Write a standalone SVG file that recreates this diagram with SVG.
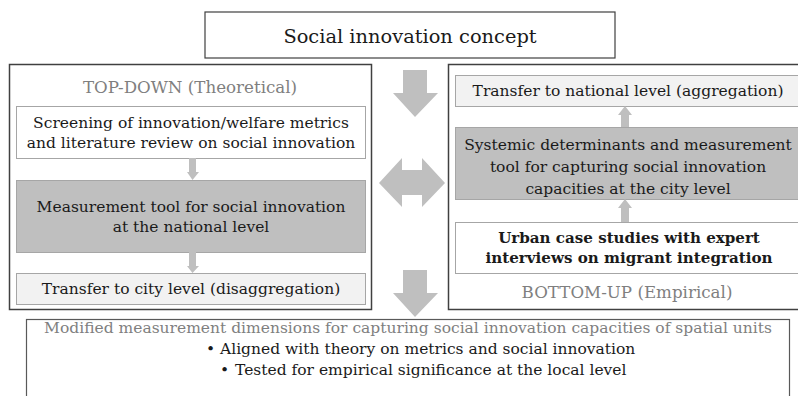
<svg xmlns="http://www.w3.org/2000/svg" width="798" height="396" viewBox="0 0 798 396">
<style>
text{font-family:"DejaVu Serif","Liberation Serif",serif;font-size:15.5px;fill:#1a1a1a;text-anchor:middle}
.gray{fill:#7f7f7f}
.lab{font-size:16.7px}
.title{font-size:19.4px}
.b{font-weight:bold;font-size:15.1px}
.cont{fill:#fff;stroke:#404040;stroke-width:1.5}
.wbox{fill:#fff;stroke:#a6a6a6;stroke-width:1}
.gbox{fill:#bfbfbf;stroke:#a6a6a6;stroke-width:1}
.lbox{fill:#f2f2f2;stroke:#a6a6a6;stroke-width:1}
.arr{fill:#bfbfbf}
.s{text-anchor:start}
</style>
<rect width="798" height="396" fill="#fff"/>
<g id="concept">
<rect x="205" y="12" width="410" height="46" fill="#fff" stroke="#404040" stroke-width="1.2"/>
<text x="410" y="43" class="title">Social innovation concept</text>
</g>
<g id="topdown">
<rect class="cont" x="9.5" y="64.5" width="362" height="245"/>
<text x="190" y="93" class="gray lab">TOP-DOWN (Theoretical)</text>
</g>
<g id="screening">
<rect class="wbox" x="16.5" y="106.5" width="349" height="52"/>
<text x="191" y="128">Screening of innovation/welfare metrics</text>
<text x="191" y="148">and literature review on social innovation</text>
</g>
<g id="measure-national">
<rect class="gbox" x="16.5" y="180.5" width="349" height="72"/>
<text x="191" y="212">Measurement tool for social innovation</text>
<text x="191" y="232">at the national level</text>
</g>
<g id="transfer-city">
<rect class="lbox" x="16.5" y="273.5" width="349" height="31"/>
<text x="191" y="294">Transfer to city level (disaggregation)</text>
</g>
<g id="bottomup">
<rect class="cont" x="448.5" y="64.5" width="352" height="245"/>
<text x="627" y="298" class="gray lab">BOTTOM-UP (Empirical)</text>
</g>
<g id="transfer-national">
<rect class="lbox" x="455.5" y="75.5" width="345" height="31"/>
<text x="628" y="96">Transfer to national level (aggregation)</text>
</g>
<g id="systemic">
<rect class="gbox" x="455.5" y="127.5" width="345" height="72"/>
<text x="628" y="150">Systemic determinants and measurement</text>
<text x="628" y="172">tool for capturing social innovation</text>
<text x="628" y="194">capacities at the city level</text>
</g>
<g id="urban">
<rect class="wbox" x="455.5" y="222.5" width="345" height="51"/>
<text x="629" y="243" class="b">Urban case studies with expert</text>
<text x="629" y="263" class="b">interviews on migrant integration</text>
</g>
<g id="result">
<rect x="26.5" y="319.5" width="763" height="80" fill="#fff" stroke="#595959" stroke-width="1.2"/>
<text x="408" y="333" class="gray">Modified measurement dimensions for capturing social innovation capacities of spatial units</text>
<text x="206" y="354" class="s">•</text>
<text x="220" y="354" class="s">Aligned with theory on metrics and social innovation</text>
<text x="220" y="375" class="s">•</text>
<text x="235" y="375" class="s">Tested for empirical significance at the local level</text>
</g>
<g id="connectors">
<polygon class="arr" points="403,70 427,70 427,93 438,93 415,117 393,93 403,93"/>
<polygon class="arr" points="379,183 402,158 402,170 422,170 422,158 445,183 422,207 422,195 402,195 402,207"/>
<polygon class="arr" points="403,270 427,270 427,293 438,293 415,317 393,293 403,293"/>
<polygon class="arr" points="189,158 196,158 196,172 199,172 192.5,180 187,172 189,172"/>
<polygon class="arr" points="189,252 196,252 196,266 199,266 192.5,273 187,266 189,266"/>
<polygon class="arr" points="621,127 629,127 629,115 632,115 625,106 618,115 621,115"/>
<polygon class="arr" points="621,222 629,222 629,208 632,208 625,199 618,208 621,208"/>
</g>
</svg>
